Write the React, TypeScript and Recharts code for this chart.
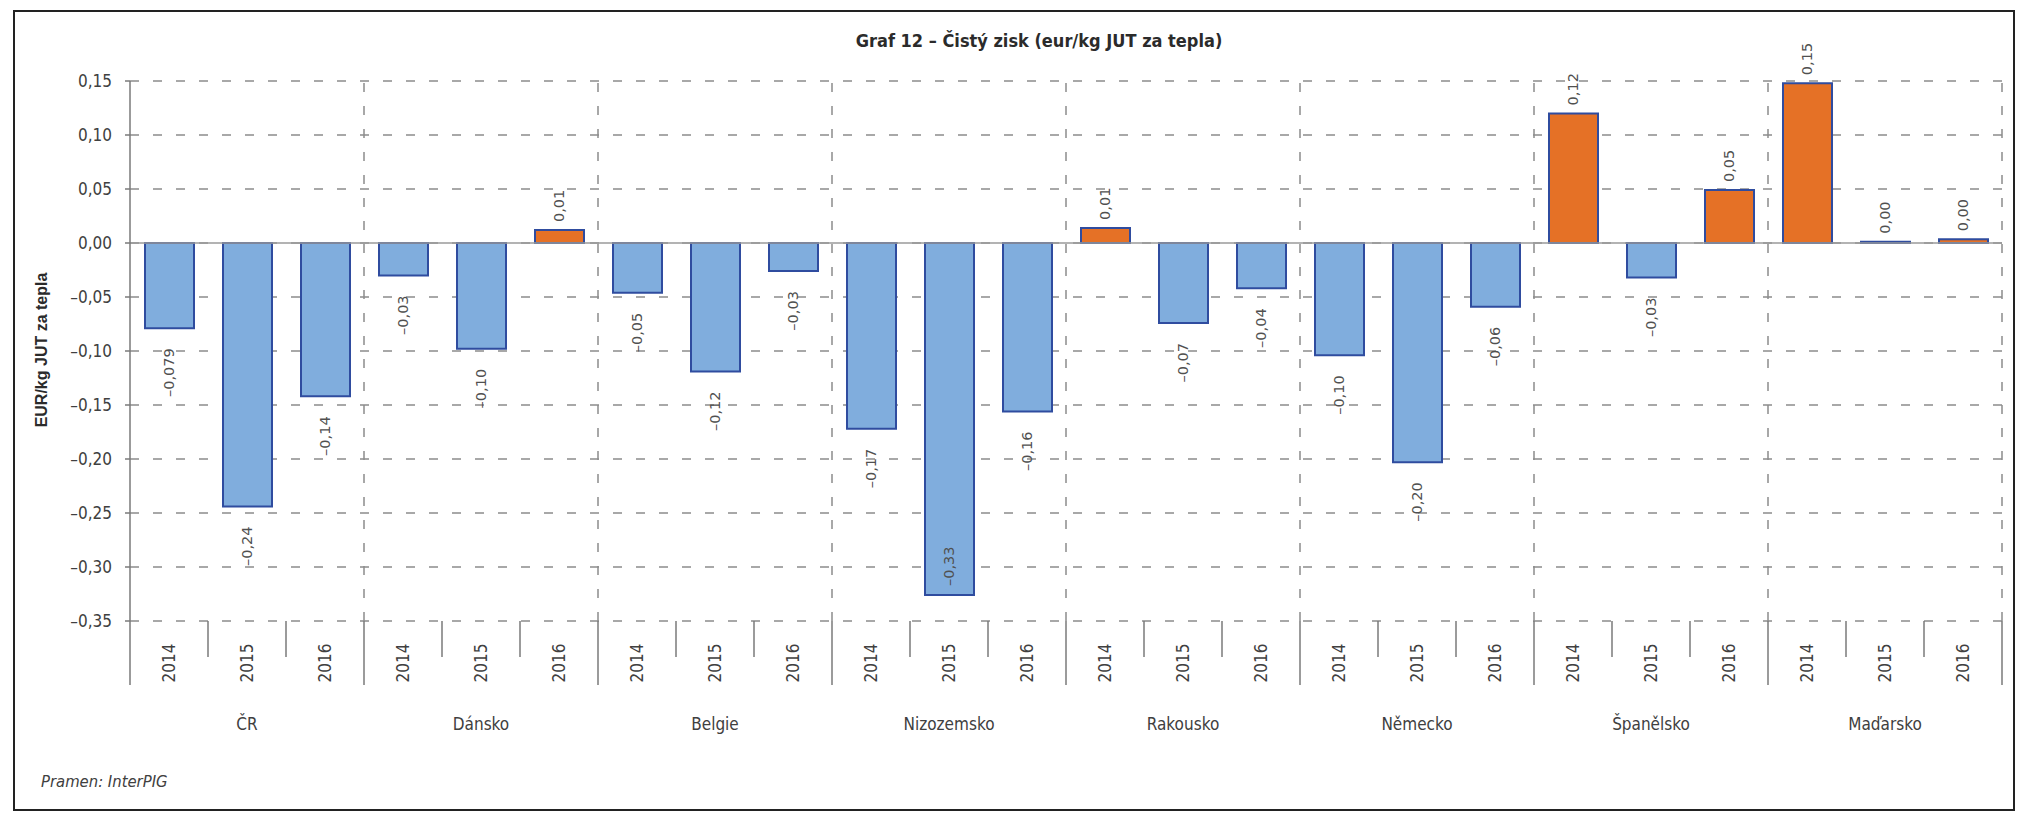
import React from 'react';
import { BarChart, Bar, XAxis, YAxis, CartesianGrid, ReferenceLine, Cell, LabelList } from 'recharts';

// Graf 12 – čistý zisk v eur/kg JUT za tepla (zdroj InterPIG)
const countries = ['ČR', 'Dánsko', 'Belgie', 'Nizozemsko', 'Rakousko', 'Německo', 'Španělsko', 'Maďarsko'];
const years = ['2014', '2015', '2016'];

const cr = [-0.079, -0.244, -0.142];
const dansko = [-0.03, -0.098, 0.012];
const belgie = [-0.046, -0.119, -0.026];
const nizozemsko = [-0.172, -0.326, -0.156];
const rakousko = [0.014, -0.074, -0.042];
const nemecko = [-0.104, -0.203, -0.059];
const spanelsko = [0.12, -0.032, 0.049];
const madarsko = [0.148, 0.0012, 0.0034];

const valueLabels = [
  '–0,079', '–0,24', '–0,14',
  '–0,03', '–0,10', '0,01',
  '–0,05', '–0,12', '–0,03',
  '–0,17', '–0,33', '–0,16',
  '0,01', '–0,07', '–0,04',
  '–0,10', '–0,20', '–0,06',
  '0,12', '–0,03', '0,05',
  '0,15', '0,00', '0,00',
];

const yTicks = [0.15, 0.1, 0.05, 0, -0.05, -0.1, -0.15, -0.2, -0.25, -0.3, -0.35];

const series = [cr, dansko, belgie, nizozemsko, rakousko, nemecko, spanelsko, madarsko];

const rows = countries.flatMap((country, ci) =>
  years.map((year, yi) => ({
    key: `${country}|${year}`,
    value: series[ci][yi],
    label: valueLabels[ci * years.length + yi],
  }))
);

// hranice mezi roky / zeměmi na pomocné číselné ose
const slotTicks = Array.from({ length: rows.length + 1 }, (_, i) => i);
const groupLines = slotTicks.filter((t) => t > 0 && t % years.length === 0);

// popisek se nevejde pod sloupec -> dát ho dovnitř
const insideBelow = yTicks[yTicks.length - 1] + 0.05;

const BLUE = '#80ADDD';
const ORANGE = '#E57126';
const EDGE = '#2F4C9F';
const GRID = '#8C8C8C';
const AXIS = '#7A7A7A';
const NARROW = '"DejaVu Sans Condensed", "Liberation Sans Narrow", "Open Sans", sans-serif';

const fmtY = (v: number) => (v < 0 ? '–' : '') + Math.abs(v).toFixed(2).replace('.', ',');

const CategoryTick = (props: any) => {
  const { x, y, payload } = props;
  const [country, year] = String(payload.value).split('|');
  const middle = year === years[1];
  return (
    <g>
      <text
        x={x}
        y={y + 41}
        transform={`rotate(-90, ${x}, ${y + 41})`}
        textAnchor="middle"
        dominantBaseline="central"
        fontFamily={NARROW}
        fontSize={17}
        fill="#404040"
      >
        {year}
      </text>
      {middle && (
        <text x={x} y={y + 102} textAnchor="middle" dominantBaseline="central" fontFamily={NARROW} fontSize={17} fill="#404040">
          {country}
        </text>
      )}
    </g>
  );
};

const SlotTick = (props: any) => {
  const { x, y, payload } = props;
  const major = payload.value % years.length === 0;
  return <line x1={x} x2={x} y1={y} y2={y + (major ? 64 : 36)} stroke={AXIS} strokeWidth={1.5} />;
};

const ValueLabel = (props: any) => {
  const { x, y, width, height, value, index } = props;
  const v = rows[index]?.value ?? 0;
  const cx = Number(x) + Number(width) / 2;
  const top = Math.min(Number(y), Number(y) + Number(height));
  const bottom = Math.max(Number(y), Number(y) + Number(height));
  let ay = top - 8;
  let anchor = 'start';
  if (v < insideBelow) {
    ay = bottom - 9;
  } else if (v < 0) {
    ay = bottom + 20;
    anchor = 'end';
  }
  return (
    <text
      x={cx}
      y={ay}
      transform={`rotate(-90, ${cx}, ${ay})`}
      textAnchor={anchor}
      dominantBaseline="central"
      fontFamily='"DejaVu Sans", sans-serif'
      fontSize={14.5}
      fill="#505050"
    >
      {value}
    </text>
  );
};

export default function App() {
  return (
    <div
      style={{
        position: 'absolute',
        left: 13,
        top: 10,
        width: 2002,
        height: 801,
        border: '2px solid #222',
        boxSizing: 'border-box',
        background: '#fff',
      }}
    >
      <div
        style={{
          position: 'absolute',
          left: 624,
          width: 800,
          top: 17,
          textAlign: 'center',
          fontFamily: NARROW,
          fontWeight: 'bold',
          fontSize: 18,
          color: '#2b2b2b',
          lineHeight: '24px',
        }}
      >
        Graf 12 – Čistý zisk (eur/kg JUT za tepla)
      </div>
      <div
        style={{
          position: 'absolute',
          left: 27 - 150,
          width: 300,
          top: 338 - 10,
          lineHeight: '20px',
          textAlign: 'center',
          transform: 'rotate(-90deg)',
          fontFamily: '"Liberation Sans", Arial, sans-serif',
          fontWeight: 'bold',
          fontSize: 16,
          color: '#2b2b2b',
        }}
      >
        EUR/kg JUT za tepla
      </div>
      <div
        style={{
          position: 'absolute',
          left: 26,
          top: 760,
          lineHeight: '20px',
          fontFamily: NARROW,
          fontStyle: 'italic',
          fontSize: 16.5,
          color: '#404040',
        }}
      >
        Pramen: InterPIG
      </div>
      <div style={{ position: 'absolute', left: 0, top: 0 }}>
        <BarChart
          width={1998}
          height={797}
          data={rows}
          margin={{ top: 69, right: 11, left: 55, bottom: 47 }}
          barCategoryGap="37%"
        >
          <CartesianGrid vertical={false} stroke={GRID} strokeWidth={1.5} strokeDasharray="9 14" />
          <XAxis
            xAxisId="b"
            dataKey="key"
            interval={0}
            axisLine={false}
            tickLine={false}
            tickSize={0}
            tickMargin={0}
            height={140}
            tick={<CategoryTick />}
          />
          <XAxis
            xAxisId="a"
            type="number"
            dataKey={() => 0}
            domain={[0, rows.length]}
            ticks={slotTicks}
            interval={0}
            axisLine={false}
            tickLine={false}
            tickSize={0}
            tickMargin={0}
            height={1}
            tick={<SlotTick />}
          />
          <YAxis
            width={60}
            domain={[-0.35, 0.15]}
            ticks={yTicks}
            interval={0}
            allowDataOverflow
            tickFormatter={fmtY}
            axisLine={{ stroke: AXIS, strokeWidth: 1.5 }}
            tickLine={{ stroke: AXIS, strokeWidth: 1.5 }}
            tickSize={5}
            tickMargin={13}
            tick={{ fontFamily: NARROW, fontSize: 17, fill: '#404040' }}
          />
          {groupLines.map((g) => (
            <ReferenceLine key={g} xAxisId="a" x={g} stroke={GRID} strokeWidth={1.5} strokeDasharray="9 14" />
          ))}
          <ReferenceLine xAxisId="a" y={0} stroke="#9A9A9A" strokeWidth={1.5} />
          <Bar xAxisId="b" dataKey="value" barSize={49} stroke={EDGE} strokeWidth={2} isAnimationActive={false}>
            {rows.map((r) => (
              <Cell key={r.key} fill={r.value >= 0 ? ORANGE : BLUE} />
            ))}
            <LabelList dataKey="label" content={<ValueLabel />} />
          </Bar>
        </BarChart>
      </div>
    </div>
  );
}
